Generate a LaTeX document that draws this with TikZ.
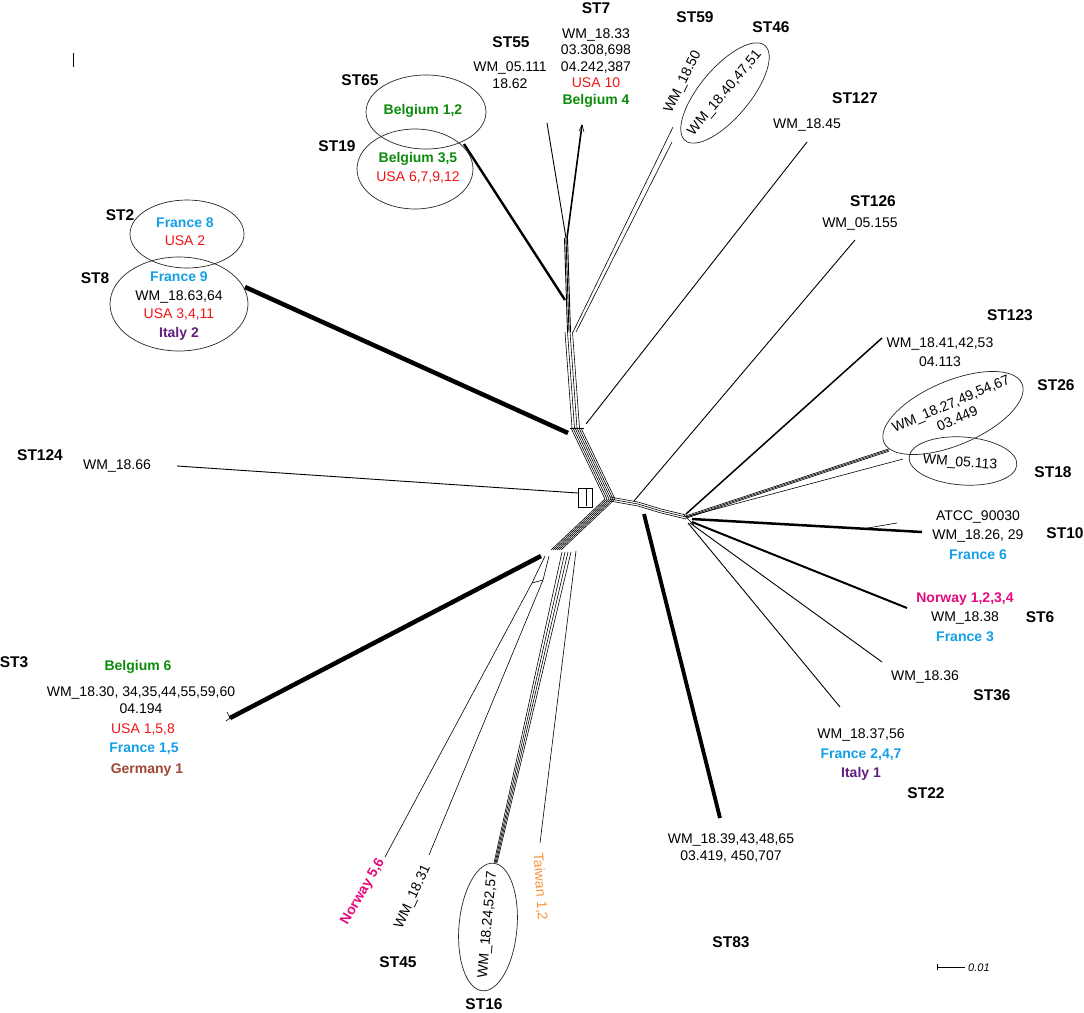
\documentclass[tikz,border=0pt]{standalone}
\usepackage{fontspec}
\setmainfont{Liberation Sans}
\definecolor{usa}{RGB}{240,20,20}
\definecolor{belgium}{RGB}{10,140,10}
\definecolor{france}{RGB}{20,160,230}
\definecolor{italy}{RGB}{100,30,125}
\definecolor{norway}{RGB}{230,10,125}
\definecolor{germany}{RGB}{160,70,50}
\definecolor{taiwan}{RGB}{247,150,60}

\begin{document}
\begin{tikzpicture}[x=1pt,y=-1pt,
  every node/.style={inner sep=0pt},
  lbl/.style={font=\fontsize{14}{19.5}\selectfont, align=center},
  tight/.style={font=\fontsize{14}{16.5}\selectfont, align=center},
  st/.style={font=\fontsize{15.5}{18}\selectfont\bfseries},
  split/.style={line width=0.6pt},
  leaf/.style={line width=0.9pt},
  heavy/.style={line width=4.5pt},
  group/.style={line width=0.7pt, black!85}]

\useasboundingbox (0,0) rectangle (1084,1012);

% junctions of the network
\coordinate (hubC) at (610,499);
\coordinate (hubU) at (576,428);
\coordinate (trunkM) at (569,332);
\coordinate (trunkS) at (565,300);
\coordinate (trunkT) at (566,238);
\coordinate (m1) at (638,504);
\coordinate (m2) at (661,511);
\coordinate (hubR) at (686,517);
\coordinate (hubL) at (556,550);
\coordinate (j8) at (568,433);
\coordinate (j127) at (586,424);
\coordinate (j124) at (578,493);
\coordinate (j126) at (634,501);
\coordinate (j83) at (644,514);
\coordinate (j3) at (541,556);
\coordinate (jBox) at (532,583);
\coordinate (jBox2) at (543,580);
\coordinate (j16) at (562,552);
\coordinate (jTw) at (576,551);
\coordinate (j10) at (862,529);

% leaf ends
\coordinate (e7) at (582,125);
\coordinate (e55) at (547,123);
\coordinate (e59) at (673,127);
\coordinate (e46) at (672,142);
\coordinate (e127) at (807,142);
\coordinate (e126) at (855,240);
\coordinate (e65) at (464,144);
\coordinate (e8) at (245,287);
\coordinate (e124) at (177,466);
\coordinate (e123) at (882,338);
\coordinate (e26) at (889,450);
\coordinate (e18) at (903,459);
\coordinate (e10) at (922,532);
\coordinate (e10b) at (897,523);
\coordinate (e6) at (907,608);
\coordinate (e36) at (882,662);
\coordinate (e22) at (840,707);
\coordinate (e83) at (720,818);
\coordinate (e3) at (230,718);
\coordinate (eNor) at (385,857);
\coordinate (e45) at (429,855);
\coordinate (e16) at (494,863);
\coordinate (eTw) at (540,843);

% splits
\foreach \o in {-5,-3,-1,1,3,5}
  \draw[split] ([xshift=\o pt]hubC) -- ([xshift=\o pt]hubU);
\foreach \o in {-4,-1.5,1,3.5}
  \draw[split] ([xshift=\o pt]hubU) -- ([xshift=\o pt]trunkM);
\draw[split] ([xshift=-6pt]hubU) -- ([xshift=8pt]hubU);
\foreach \o in {-1.5,0,1.5}
  \draw[leaf] ([xshift=\o pt]trunkM) -- ([xshift=\o pt]trunkT);
\draw[leaf] (trunkT) -- (e55);
\draw[line width=1.6pt] ([xshift=1pt]trunkT) -- (e7);
\draw[split] (e7) -- ++(-3,6);
\draw[split] (e7) -- ++(2,7);
\draw[line width=2.4pt] (trunkS) -- (e65);
\draw[split] ([xshift=4pt]trunkM) -- (e59);
\draw[split] ([xshift=7pt]trunkM) -- (e46);
\draw[leaf] (j127) -- (e127);
\draw[heavy] (j8) -- (e8);
\draw[leaf] (j124) -- (e124);
\draw[split] ([yshift=5pt]j124) rectangle ([xshift=-18pt,yshift=-8pt]hubC);
\draw[split] ([xshift=8pt,yshift=5pt]j124) -- ([xshift=8pt,yshift=-13pt]j124);

\foreach \o in {-2,0,2}
  \draw[split] ([yshift=\o pt]hubC) -- ([yshift=\o pt]m1) -- ([yshift=\o pt]m2) -- ([yshift=\o pt]hubR);
\draw[leaf] (j126) -- (e126);
\draw[line width=3.8pt] (j83) -- (e83);

\draw[line width=1.5pt] ([yshift=3pt]hubR) -- (e123);
\foreach \o in {-1.2,0,1.2}
  \draw[split] ([yshift=\o pt]hubR) -- ([yshift=\o pt]e26);
\draw[split] (hubR) -- (e18);
\draw[line width=2.5pt] ([xshift=6pt,yshift=-2pt]hubR) -- (e10);
\draw[split] (j10) -- (e10b);
\draw[line width=2pt] ([xshift=6pt,yshift=-5pt]hubR) -- (e6);
\draw[leaf] ([xshift=4pt,yshift=-6pt]hubR) -- (e36);
\draw[leaf] ([xshift=2pt,yshift=-6pt]hubR) -- (e22);
\draw[split] ([xshift=-3pt,yshift=3pt]hubR) -- ([xshift=8pt,yshift=-8pt]hubR);

\foreach \o in {-5,-3,-1,1,3,5}
  \draw[split] ([xshift=\o pt]hubC) -- ([xshift=\o pt]hubL);
\draw[heavy] (j3) -- (e3);
\draw[split] (e3) -- ++(-3,-6);
\draw[split] (e3) -- ++(-4,3);
\draw[split] ([xshift=4pt]j3) -- (jBox) -- (eNor);
\draw[split] ([xshift=8pt]j3) -- (jBox2) -- (e45);
\draw[split] (jBox) -- (jBox2);
\foreach \a/\b in {0/0,3/1,6/2,9/3}
  \draw[split] ([xshift=\a pt]j16) -- ([xshift=\b pt]e16);
\draw[split] (jTw) -- (eTw);

% sequence types
\node[st] (st7) at (596,8) {ST7};
\node[tight] (l7) at (596,68) {WM\_18.33\\03.308,698\\04.242,387\\\textcolor{usa}{USA 10}\\\textbf{\textcolor{belgium}{Belgium 4}}};
\node[st] (st55) at (511,42) {ST55};
\node[tight] (l55) at (510,75) {WM\_05.111\\18.62};
\node[st] (st59) at (695,17) {ST59};
\node[lbl, rotate=64] (l59) at (683,82) {WM\_18.50};
\node[st] (st46) at (771,27) {ST46};
\coordinate (c46) at (725,93);
\draw[group, rotate around={50:(c46)}] (c46) ellipse (62 and 25);
\node[lbl, rotate=50] (l46) at (c46) {WM\_18.40,47,51};
\node[st] (st127) at (855,98) {ST127};
\node[lbl] (l127) at (807,125) {WM\_18.45};
\node[st] (st126) at (873,201) {ST126};
\node[lbl] (l126) at (860,224) {WM\_05.155};

\node[st] (st65) at (360,80) {ST65};
\coordinate (c65) at (426,112);
\draw[group] (c65) ellipse (60 and 37);
\node[lbl] (l65) at (423,111) {\textbf{\textcolor{belgium}{Belgium 1,2}}};
\node[st] (st19) at (337,146) {ST19};
\coordinate (c19) at (415,169);
\draw[group] (c19) ellipse (58 and 40);
\node[lbl] (l19) at (418,168) {\textbf{\textcolor{belgium}{Belgium 3,5}}\\\textcolor{usa}{USA 6,7,9,12}};

\node[st] (st2) at (120,215) {ST2};
\coordinate (c2) at (187,234);
\draw[group] (c2) ellipse (57 and 34);
\node[tight] (l2) at (185,232) {\textbf{\textcolor{france}{France 8}}\\[1.5pt]\textcolor{usa}{USA 2}};
\node[st] (st8) at (95,278) {ST8};
\coordinate (c8) at (179,304);
\draw[group] (c8) ellipse (69 and 47);
\node[tight] (l8) at (179,306) {\textbf{\textcolor{france}{France 9}}\\[2pt]WM\_18.63,64\\[2pt]\textcolor{usa}{USA 3,4,11}\\[2pt]\textbf{\textcolor{italy}{Italy 2}}};

\node[st] (st124) at (40,455) {ST124};
\node[lbl] (l124) at (117,466) {WM\_18.66};

\node[st] (st3) at (14,662) {ST3};
\node[lbl] (l3a) at (138,667) {\textbf{\textcolor{belgium}{Belgium 6}}};
\node[tight] (l3b) at (141,700) {WM\_18.30, 34,35,44,55,59,60\\04.194};
\node[lbl] (l3c) at (143,729) {\textcolor{usa}{USA 1,5,8}};
\node[lbl] (l3d) at (144,749) {\textbf{\textcolor{france}{France 1,5}}};
\node[lbl] (l3e) at (147,770) {\textbf{\textcolor{germany}{Germany 1}}};

\node[lbl, rotate=60] (lnor) at (363,892) {\textbf{\textcolor{norway}{Norway 5,6}}};
\node[lbl, rotate=65] (l45) at (413,897) {WM\_18.31};
\node[st] (st45) at (398,962) {ST45};
\coordinate (c16) at (488,927);
\draw[group, rotate around={-5:(c16)}] (c16) ellipse (29 and 64);
\node[lbl, rotate=85] (l16) at (488,925) {WM\_18.24,52,57};
\node[st] (st16) at (484,1004) {ST16};
\node[lbl, rotate=-86] (ltw) at (540,887) {\textcolor{taiwan}{Taiwan 1,2}};

\node[st] (st83) at (731,942) {ST83};
\node[tight] (l83) at (731,848) {WM\_18.39,43,48,65\\03.419, 450,707};
\node[st] (st22) at (926,793) {ST22};
\node[lbl] (l22) at (861,755) {WM\_18.37,56\\\textbf{\textcolor{france}{France 2,4,7}}\\\textbf{\textcolor{italy}{Italy 1}}};
\node[st] (st36) at (992,695) {ST36};
\node[lbl] (l36) at (925,677) {WM\_18.36};
\node[st] (st6) at (1040,617) {ST6};
\node[lbl] (l6) at (965,617) {\textbf{\textcolor{norway}{Norway 1,2,3,4}}\\WM\_18.38\\\textbf{\textcolor{france}{France 3}}};
\node[st] (st10) at (1065,533) {ST10};
\node[lbl] (l10) at (978,535) {ATCC\_90030\\WM\_18.26, 29\\\textbf{\textcolor{france}{France 6}}};
\node[st] (st18) at (1053,472) {ST18};
\coordinate (c18) at (963,461);
\draw[group, rotate around={-4:(c18)}] (c18) ellipse (54 and 24);
\node[lbl, rotate=-4] (l18) at (960,463) {WM\_05.113};
\node[st] (st26) at (1056,385) {ST26};
\coordinate (c26) at (953,413);
\draw[group, rotate around={23:(c26)}] (c26) ellipse (75 and 32);
\node[tight, rotate=23] (l26) at (954,411) {WM\_18.27,49,54,67\\03.449};
\node[st] (st123) at (1010,315) {ST123};
\node[lbl] (l123) at (940,352) {WM\_18.41,42,53\\04.113};

% marks
\draw[split] (73,53) -- (73,67);
\coordinate (bar0) at (937,967);
\coordinate (bar1) at (965,967);
\draw[split] (bar0) -- (bar1);
\draw[split] ([yshift=3pt]bar0) -- ([yshift=-3pt]bar0);
\node[font=\fontsize{11}{13}\selectfont\itshape, anchor=west] (scale) at (968,968) {0.01};
\end{tikzpicture}
\end{document}
